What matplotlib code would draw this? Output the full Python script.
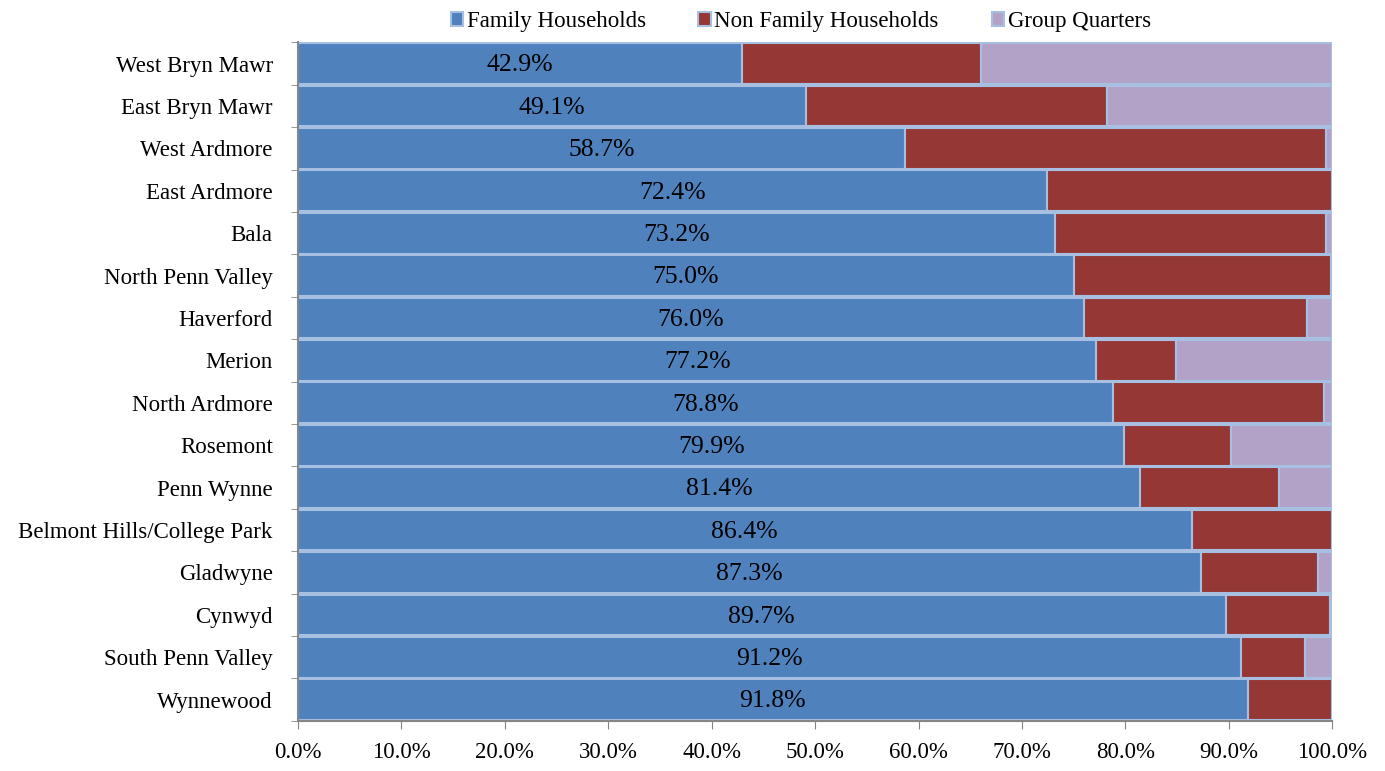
import matplotlib.pyplot as plt
import numpy as np

plt.rcParams['font.family'] = ['Liberation Serif', 'DejaVu Serif']

areas = ["West Bryn Mawr", "East Bryn Mawr", "West Ardmore", "East Ardmore",
         "Bala", "North Penn Valley", "Haverford", "Merion", "North Ardmore",
         "Rosemont", "Penn Wynne", "Belmont Hills/College Park", "Gladwyne",
         "Cynwyd", "South Penn Valley", "Wynnewood"]
family = np.array([42.9, 49.1, 58.7, 72.4, 73.2, 75.0, 76.0, 77.2, 78.8,
                   79.9, 81.4, 86.4, 87.3, 89.7, 91.2, 91.8])
non_family = np.array([23.1, 29.1, 40.7, 27.6, 26.2, 24.9, 21.5, 7.7, 20.4,
                       10.3, 13.4, 13.6, 11.3, 10.1, 6.2, 8.2])
group_q = np.array([34.0, 21.8, 0.6, 0.0, 0.6, 0.1, 2.5, 15.1, 0.8,
                    9.8, 5.2, 0.0, 1.4, 0.2, 2.6, 0.0])

fig, ax = plt.subplots(figsize=(13.85, 7.71), dpi=100)
fig.subplots_adjust(left=0.215, right=0.962, top=0.945, bottom=0.065)

y = np.arange(len(areas))
bar_style = dict(height=0.96, edgecolor="#A7BFE0", linewidth=1.5)

ax.barh(y, family, color="#4F81BD", label="Family Households", **bar_style)
ax.barh(y, non_family, left=family, color="#953735",
        label="Non Family Households", **bar_style)
ax.barh(y, group_q, left=family + non_family, color="#B3A2C7",
        label="Group Quarters", **bar_style)

for i, v in enumerate(family):
    ax.text(v / 2, i + 0.04, f"{v:.1f}%", ha="center", va="center", fontsize=18.5)

ax.set_xlim(0, 100)
ax.set_ylim(len(areas) - 0.5, -0.5)
ax.set_xticks(np.arange(0, 101, 10))
ax.set_xticklabels([f"{t:.1f}%" for t in range(0, 101, 10)], fontsize=16.5)
ax.set_yticks(y)
ax.set_yticklabels(areas, fontsize=16.5)
ax.set_yticks(np.arange(-0.5, len(areas), 1), minor=True)
ax.tick_params(axis="y", which="major", length=0, pad=18)
ax.tick_params(axis="y", which="minor", length=5, color="#868686")
ax.tick_params(axis="x", length=6, color="#868686", pad=9)

for s in ["top", "right"]:
    ax.spines[s].set_visible(False)
for s in ["left", "bottom"]:
    ax.spines[s].set_color("#868686")
    ax.spines[s].set_linewidth(1.5)

ax.legend(loc="lower center", bbox_to_anchor=(0.486, 1.012), ncol=3,
          frameon=False, fontsize=16.5, handlelength=0.55, handleheight=0.55,
          handletextpad=0.15, columnspacing=2.3, borderaxespad=0,
          borderpad=0.1)

fig.savefig("out.png")
